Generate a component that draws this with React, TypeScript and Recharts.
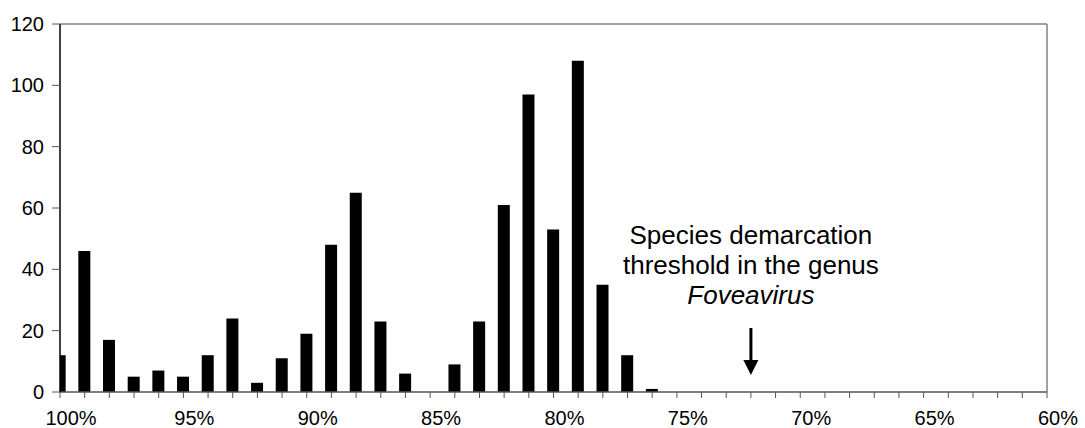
import { BarChart, Bar, XAxis, YAxis, ReferenceLine, ReferenceDot } from "recharts";

// identity (%) from 100 down to 60, one slot per percent
const PCT = [
  100, 99, 98, 97, 96, 95, 94, 93, 92, 91, 90, 89, 88, 87, 86, 85, 84, 83, 82, 81, 80,
  79, 78, 77, 76, 75, 74, 73, 72, 71, 70, 69, 68, 67, 66, 65, 64, 63, 62, 61, 60,
];
const COUNTS = [
  12, 46, 17, 5, 7, 5, 12, 24, 3, 11, 19, 48, 65, 23, 6, 0, 9, 23, 61, 97, 53,
  108, 35, 12, 1, 0, 0, 0, 0, 0, 0, 0, 0, 0, 0, 0, 0, 0, 0, 0, 0,
];
const Y_TICKS = [0, 20, 40, 60, 80, 100, 120];
const LABELED = [100, 95, 90, 85, 80, 75, 70, 65, 60];
const THRESHOLD = 72;
const NOTE = ["Species demarcation", "threshold in the genus", "Foveavirus"];

const data = PCT.map((p, i) => ({ pct: p, count: COUNTS[i] }));

const FONT = "'Liberation Sans', Arial, sans-serif";

function PctTick(props: any) {
  const { x, y, payload } = props;
  if (!LABELED.includes(payload.value)) return <g />;
  return (
    <text x={x + 11} y={y + 25} textAnchor="middle" fontSize={20} fill="#000" fontFamily={FONT}>
      {payload.value}%
    </text>
  );
}

function ThresholdNote(props: any) {
  const { cx, cy } = props;
  return (
    <g>
      <text x={cx} y={cy - 148} textAnchor="middle" fontSize={26} fill="#000" fontFamily={FONT}>
        {NOTE[0]}
      </text>
      <text x={cx} y={cy - 118} textAnchor="middle" fontSize={26} fill="#000" fontFamily={FONT}>
        {NOTE[1]}
      </text>
      <text x={cx} y={cy - 88} textAnchor="middle" fontSize={26} fontStyle="italic" fill="#000" fontFamily={FONT}>
        {NOTE[2]}
      </text>
      <line x1={cx} y1={cy - 64} x2={cx} y2={cy - 30} stroke="#000" strokeWidth={3} />
      <polygon points={`${cx - 7.5},${cy - 32} ${cx + 7.5},${cy - 32} ${cx},${cy - 17}`} fill="#000" />
    </g>
  );
}

export default function App() {
  return (
    <div style={{ position: "absolute", left: 0, top: 0, background: "#fff" }}>
      <BarChart
        width={1085}
        height={428}
        data={data}
        margin={{ top: 24, right: 38, left: 0, bottom: 0 }}
        style={{ fontFamily: FONT }}
      >
        <XAxis
          dataKey="pct"
          type="number"
          domain={[60, 100]}
          reversed
          allowDataOverflow
          ticks={PCT}
          interval={0}
          height={36}
          tickSize={6}
          tickMargin={2}
          axisLine={{ stroke: "#555", strokeWidth: 1.5 }}
          tickLine={{ stroke: "#555" }}
          tick={<PctTick />}
        />
        <YAxis
          domain={[0, 120]}
          ticks={Y_TICKS}
          width={60}
          tickSize={8}
          tickMargin={8}
          axisLine={{ stroke: "#000", strokeWidth: 1.5 }}
          tickLine={{ stroke: "#555" }}
          tick={{ fontSize: 20, fill: "#000", fontFamily: FONT }}
        />
        <ReferenceLine y={120} stroke="#808080" strokeWidth={1.5} />
        <ReferenceLine x={60} stroke="#808080" strokeWidth={1.5} />
        <Bar dataKey="count" fill="#000" barSize={12} isAnimationActive={false} />
        <ReferenceDot x={THRESHOLD} y={0} r={0} shape={<ThresholdNote />} />
      </BarChart>
    </div>
  );
}
